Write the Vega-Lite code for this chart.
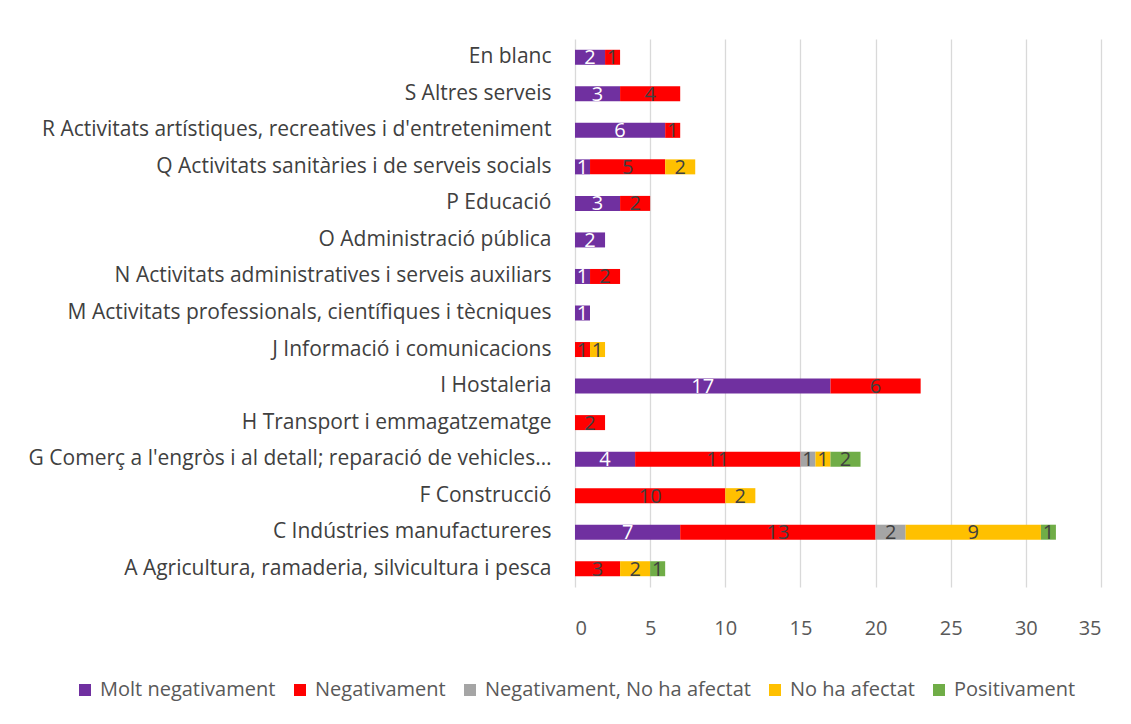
{
  "$schema": "https://vega.github.io/schema/vega-lite/v6.json",
  "autosize": "none",
  "width": 526,
  "height": 548,
  "padding": {"left": 575, "top": 39, "right": 30, "bottom": 137},
  "background": "#ffffff",
  "config": {"view": {"stroke": null}, "font": "Open Sans"},
  "data": {"values": [
    {"cat": "En blanc", "serie": "Molt negativament", "n": 2},
    {"cat": "En blanc", "serie": "Negativament", "n": 1},
    {"cat": "S Altres serveis", "serie": "Molt negativament", "n": 3},
    {"cat": "S Altres serveis", "serie": "Negativament", "n": 4},
    {"cat": "R Activitats artístiques, recreatives i d'entreteniment", "serie": "Molt negativament", "n": 6},
    {"cat": "R Activitats artístiques, recreatives i d'entreteniment", "serie": "Negativament", "n": 1},
    {"cat": "Q Activitats sanitàries i de serveis socials", "serie": "Molt negativament", "n": 1},
    {"cat": "Q Activitats sanitàries i de serveis socials", "serie": "Negativament", "n": 5},
    {"cat": "Q Activitats sanitàries i de serveis socials", "serie": "No ha afectat", "n": 2},
    {"cat": "P Educació", "serie": "Molt negativament", "n": 3},
    {"cat": "P Educació", "serie": "Negativament", "n": 2},
    {"cat": "O Administració pública", "serie": "Molt negativament", "n": 2},
    {"cat": "N Activitats administratives i serveis auxiliars", "serie": "Molt negativament", "n": 1},
    {"cat": "N Activitats administratives i serveis auxiliars", "serie": "Negativament", "n": 2},
    {"cat": "M Activitats professionals, científiques i tècniques", "serie": "Molt negativament", "n": 1},
    {"cat": "J Informació i comunicacions", "serie": "Negativament", "n": 1},
    {"cat": "J Informació i comunicacions", "serie": "No ha afectat", "n": 1},
    {"cat": "I Hostaleria", "serie": "Molt negativament", "n": 17},
    {"cat": "I Hostaleria", "serie": "Negativament", "n": 6},
    {"cat": "H Transport i emmagatzematge", "serie": "Negativament", "n": 2},
    {"cat": "G Comerç a l'engròs i al detall; reparació de vehicles…", "serie": "Molt negativament", "n": 4},
    {"cat": "G Comerç a l'engròs i al detall; reparació de vehicles…", "serie": "Negativament", "n": 11},
    {"cat": "G Comerç a l'engròs i al detall; reparació de vehicles…", "serie": "Negativament, No ha afectat", "n": 1},
    {"cat": "G Comerç a l'engròs i al detall; reparació de vehicles…", "serie": "No ha afectat", "n": 1},
    {"cat": "G Comerç a l'engròs i al detall; reparació de vehicles…", "serie": "Positivament", "n": 2},
    {"cat": "F Construcció", "serie": "Negativament", "n": 10},
    {"cat": "F Construcció", "serie": "No ha afectat", "n": 2},
    {"cat": "C Indústries manufactureres", "serie": "Molt negativament", "n": 7},
    {"cat": "C Indústries manufactureres", "serie": "Negativament", "n": 13},
    {"cat": "C Indústries manufactureres", "serie": "Negativament, No ha afectat", "n": 2},
    {"cat": "C Indústries manufactureres", "serie": "No ha afectat", "n": 9},
    {"cat": "C Indústries manufactureres", "serie": "Positivament", "n": 1},
    {"cat": "A Agricultura, ramaderia, silvicultura i pesca", "serie": "Negativament", "n": 3},
    {"cat": "A Agricultura, ramaderia, silvicultura i pesca", "serie": "No ha afectat", "n": 2},
    {"cat": "A Agricultura, ramaderia, silvicultura i pesca", "serie": "Positivament", "n": 1}
  ]},
  "layer": [
    {
      "mark": {"type": "bar", "size": 15},
      "encoding": {
        "y": {
          "field": "cat", "type": "nominal", "sort": null, "title": null,
          "scale": {"paddingInner": 0, "paddingOuter": 0},
          "axis": {"ticks": false, "domain": false, "labelPadding": 24, "labelFontSize": 21, "labelColor": "#404040", "labelLimit": 700}
        },
        "x": {
          "field": "n", "type": "quantitative", "aggregate": "sum", "stack": "zero", "title": null,
          "scale": {"domain": [0, 35], "nice": false},
          "axis": {"values": [0, 5, 10, 15, 20, 25, 30, 35], "ticks": false, "domain": false, "grid": true, "gridColor": "#D9D9D9", "gridWidth": 1.3, "labelPadding": 31, "labelFontSize": 20, "labelColor": "#595959"}
        },
        "color": {
          "field": "serie", "type": "nominal", "title": null,
          "scale": {
            "domain": ["Molt negativament", "Negativament", "Negativament, No ha afectat", "No ha afectat", "Positivament"],
            "range": ["#7030A0", "#FF0000", "#A5A5A5", "#FFC000", "#70AD47"]
          },
          "legend": {
            "orient": "none", "direction": "horizontal", "legendX": -500, "legendY": 641,
            "symbolType": "square", "symbolSize": 144, "symbolStrokeWidth": 0,
            "labelFontSize": 20, "labelColor": "#595959", "columnPadding": 14, "labelOffset": 5, "labelLimit": 500
          }
        }
      }
    },
    {
      "transform": [
        {"stack": "n", "groupby": ["cat"], "sort": [{"field": "serie", "order": "ascending"}], "as": ["x0", "x1"]},
        {"fold": ["x0", "x1"], "as": ["edge", "pos"]},
        {"aggregate": [{"op": "mean", "field": "pos", "as": "mid"}], "groupby": ["cat", "serie", "n"]}
      ],
      "mark": {"type": "text", "fontSize": 20, "baseline": "middle", "align": "center", "dy": 1},
      "encoding": {
        "y": {"field": "cat", "type": "nominal", "sort": null},
        "x": {"field": "mid", "type": "quantitative"},
        "text": {"field": "n", "type": "quantitative"},
        "color": {
          "field": "serie", "type": "nominal",
          "scale": {
            "domain": ["Molt negativament", "Negativament", "Negativament, No ha afectat", "No ha afectat", "Positivament"],
            "range": ["#FFFFFF", "#404040", "#404040", "#404040", "#404040"]
          },
          "legend": null
        }
      }
    }
  ],
  "resolve": {"scale": {"color": "independent"}}
}
